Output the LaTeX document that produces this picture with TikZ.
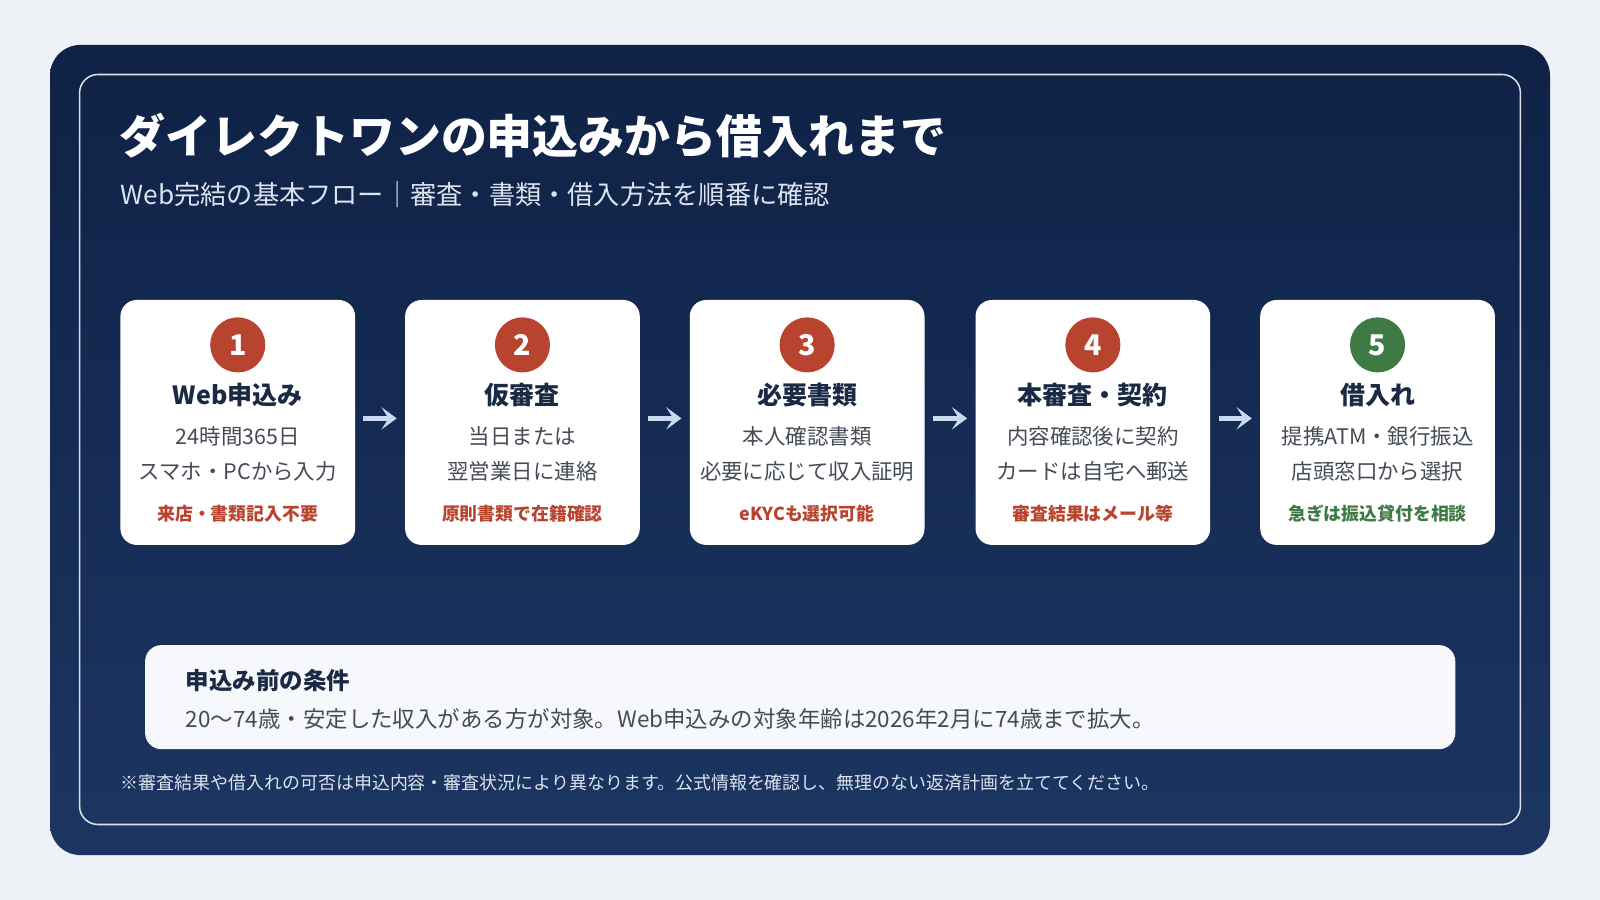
\documentclass[tikz,border=0pt]{standalone}
\usepackage{fontspec}
\setmainfont{Noto Sans CJK JP}
\usetikzlibrary{arrows.meta}
\definecolor{bg}{HTML}{EEF2F7}
\definecolor{navA}{HTML}{0F2246}
\definecolor{navB}{HTML}{1C3562}
\definecolor{ink}{HTML}{1B2A44}
\definecolor{txt}{HTML}{454B55}
\definecolor{red}{HTML}{B8432F}
\definecolor{grn}{HTML}{3F7A45}
\definecolor{arr}{HTML}{C9D9F0}
\definecolor{sub}{HTML}{DCE3EE}
\tikzset{
 card/.style={fill=white,rounded corners=16pt,minimum width=230pt,minimum height=240pt,draw=none},
 num/.style={circle,minimum size=54pt,inner sep=0pt,text=white,font=\fontsize{28}{28}\selectfont\bfseries},
 head/.style={text=ink,font=\fontsize{24.5}{25}\selectfont\bfseries},
 body/.style={text=txt,font=\fontsize{21}{21}\selectfont},
 note/.style={font=\fontsize{17.5}{18}\selectfont\bfseries},
 flow/.style={-{Stealth[length=15pt,width=22pt,inset=7pt]},line width=5pt,draw=arr,shorten >=2pt,shorten <=2pt}
}
\begin{document}
\begin{tikzpicture}[x=1pt,y=-1pt]
\fill[bg] (0,0) rectangle (1568,882);
\useasboundingbox (0,0) rectangle (1568,882);
\shade[top color=navA,bottom color=navB,rounded corners=30pt] (49,44) rectangle (1519,838);
\draw[white,opacity=.85,line width=1.5pt,rounded corners=18pt] (78,73) rectangle (1490,808);
\node[anchor=west,text=white,inner sep=0pt,font=\fontsize{45}{45}\selectfont\bfseries] (title) at (117,133) {ダイレクトワンの申込みから借入れまで};
\node[anchor=west,text=sub,inner sep=0pt,font=\fontsize{25.7}{26}\selectfont] (subt) at (118,191) {Web完結の基本フロー｜審査・書類・借入方法を順番に確認};
\foreach \i/\x/\n/\c/\h/\a/\b/\nt in {
 1/233/1/red/Web申込み/24時間365日/スマホ・PCから入力/来店・書類記入不要,
 2/512/2/red/仮審査/当日または/翌営業日に連絡/原則書類で在籍確認,
 3/791/3/red/必要書類/本人確認書類/必要に応じて収入証明/eKYCも選択可能,
 4/1071/4/red/本審査・契約/内容確認後に契約/カードは自宅へ郵送/審査結果はメール等,
 5/1350/5/grn/借入れ/提携ATM・銀行振込/店頭窓口から選択/急ぎは振込貸付を相談}{
 \node[card] (c\i) at (\x,414) {};
 \node[num,fill=\c] (n\i) at (\x,338) {\n};
 \node[head] (h\i) at (\x,387) {\h};
 \node[body] (a\i) at (\x,428) {\a};
 \node[body] (b\i) at (\x,462) {\b};
 \node[note,text=\c] (t\i) at (\x,503) {\nt};
}
\foreach \i/\j in {1/2,2/3,3/4,4/5}{
 \draw[flow] ([xshift=6pt,yshift=4pt]c\i.east) -- ([xshift=-6pt,yshift=4pt]c\j.west);
}
\node[fill=bg!50!white,rounded corners=16pt,minimum width=1284pt,minimum height=102pt,anchor=north west] (cond) at (142,632) {};
\node[anchor=west,inner sep=0pt,text=ink,font=\fontsize{23}{23}\selectfont\bfseries] (ct) at (182,667) {申込み前の条件};
\node[anchor=west,inner sep=0pt,text=txt,font=\fontsize{22}{22}\selectfont] (cb) at (182,705) {20〜74歳・安定した収入がある方が対象。Web申込みの対象年齢は2026年2月に74歳まで拡大。};
\node[anchor=west,inner sep=0pt,text=sub,font=\fontsize{17.6}{18}\selectfont] (fn) at (118,767) {※審査結果や借入れの可否は申込内容・審査状況により異なります。公式情報を確認し、無理のない返済計画を立ててください。};
\end{tikzpicture}
\end{document}
